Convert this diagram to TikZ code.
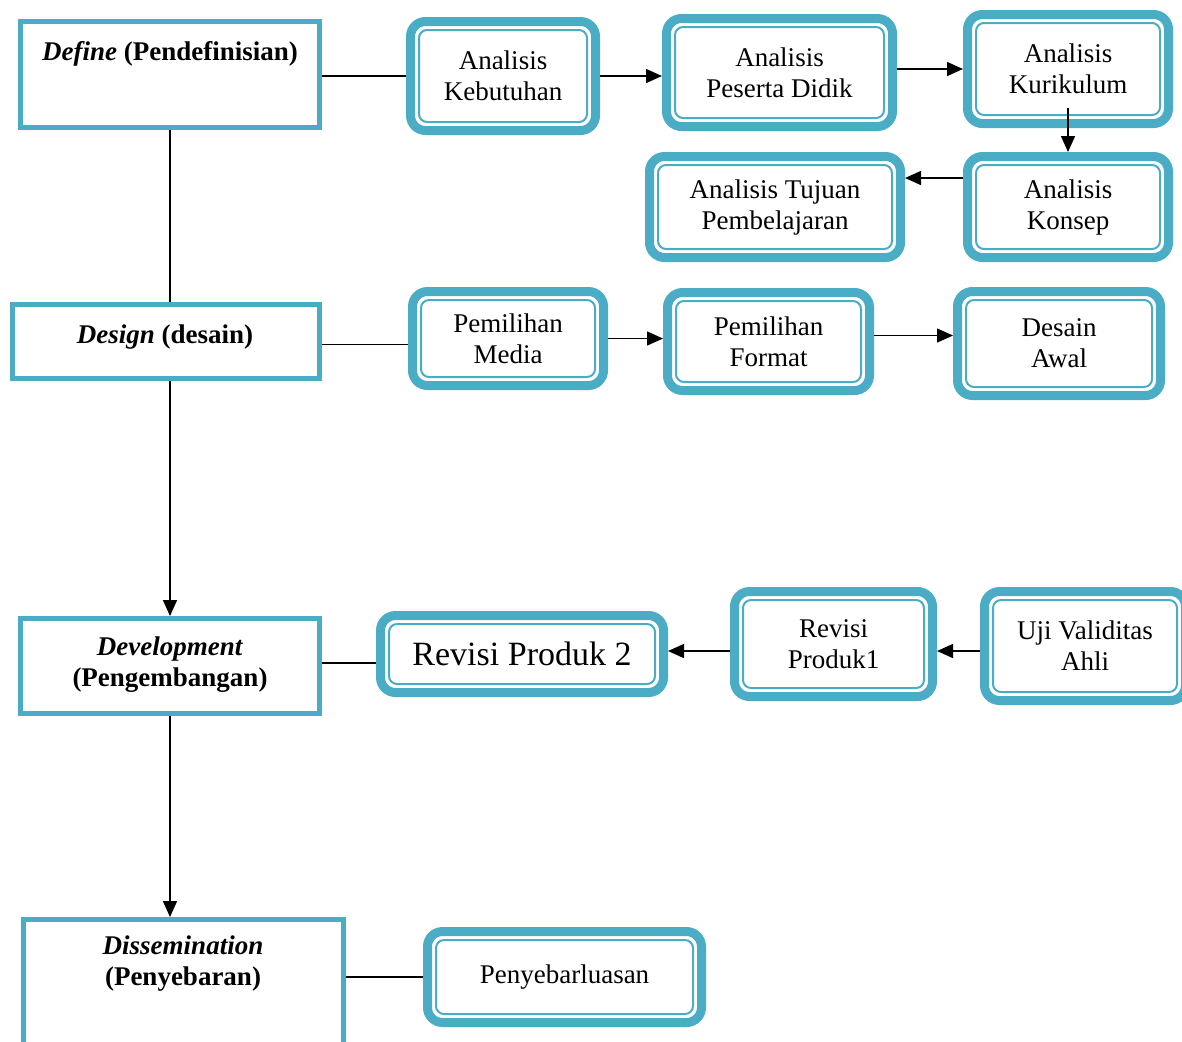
\documentclass[tikz,border=0pt]{standalone}
\usepackage{fontspec}
\setmainfont{Liberation Serif}
\usetikzlibrary{arrows.meta}
\definecolor{tealbox}{RGB}{75,172,198}
\begin{document}
\begin{tikzpicture}[x=0.5pt,y=-0.5pt,
  stage/.style={draw=tealbox, line width=2.5pt, fill=white, inner sep=0pt},
  stagetext/.style={font=\fontsize{13.5}{15.5}\selectfont\bfseries, align=center},
  task/.style={draw=tealbox, line width=4.5pt, rounded corners=7.5pt, fill=white, align=center, font=\fontsize{13.5}{15.5}\selectfont},
  taskin/.style={draw=tealbox, line width=1pt, rounded corners=4pt},
  link/.style={line width=0.75pt},
  flow/.style={line width=0.75pt, -{Triangle[length=8pt,width=7pt]}}]
\useasboundingbox (0,0) rectangle (1182,1041);
\node[stage, minimum width=149.5pt, minimum height=53pt] (def) at (170,74.5){};
\node[stagetext] (deft) at (170,54){\textit{Define} (Pendefinisian)};
\node[stage, minimum width=153.5pt, minimum height=37pt] (dsg) at (166,341.5){};
\node[stagetext] (dsgt) at (165,337){\textit{Design} (desain)};
\node[stage, minimum width=149.5pt, minimum height=47.5pt] (dev) at (170,666){};
\node[stagetext] (devt) at (170,665){\textit{Development}\\(Pengembangan)};
\node[stage, minimum width=160pt, minimum height=70.25pt] (dis) at (183.5,989.75){};
\node[stagetext] (dist) at (183,964){\textit{Dissemination}\\(Penyebaran)};
\node[task, minimum width=92.5pt, minimum height=54.5pt] (keb) at (503,76){Analisis\\Kebutuhan};
\node[task, minimum width=113pt, minimum height=54pt] (psd) at (779.5,72.5){Analisis\\Peserta Didik};
\node[task, minimum width=100.5pt, minimum height=54.5pt] (kur) at (1068,69){Analisis\\Kurikulum};
\node[task, minimum width=100.5pt, minimum height=50.5pt] (kon) at (1068,207){Analisis\\Konsep};
\node[task, minimum width=125.5pt, minimum height=50.5pt] (tuj) at (775,207){Analisis Tujuan\\Pembelajaran};
\node[task, minimum width=95.5pt, minimum height=47pt] (med) at (508,338.5){Pemilihan\\Media};
\node[task, minimum width=101pt, minimum height=49pt] (fmt) at (768.5,341.5){Pemilihan\\Format};
\node[task, minimum width=101.5pt, minimum height=52pt] (dsn) at (1059,343.5){Desain\\Awal};
\node[task, minimum width=141.5pt, minimum height=38.5pt, font=\fontsize{17}{19}\selectfont] (rv2) at (522,654){Revisi Produk 2};
\node[task, minimum width=99pt, minimum height=52.5pt] (rv1) at (833.5,644){Revisi\\Produk1};
\node[task, minimum width=100.5pt, minimum height=54.5pt] (uji) at (1085,646){Uji Validitas\\Ahli};
\node[task, minimum width=137pt, minimum height=45.5pt] (pen) at (564.5,977){Penyebarluasan};
\foreach \n in {keb,psd,kur,kon,tuj,med,fmt,dsn,rv2,rv1,uji,pen}
  \draw[taskin] ([shift={(13,13)}]\n.north west) rectangle ([shift={(-13,-13)}]\n.south east);
\draw[link](def.south) -- (def.south |- dsg.north);
\draw[flow](dev.north |- dsg.south) -- (dev.north);
\draw[flow](dev.south) -- (dev.south |- dis.north);
\draw[link](def.east |- keb.west) -- (keb.west);
\draw[link]([yshift=-1.5pt]dsg.east) -- ([yshift=-1.5pt]dsg.east -| med.west);
\draw[link]([yshift=1.5pt]dev.east) -- ([yshift=1.5pt]dev.east -| rv2.west);
\draw[link](pen.west -| dis.east) -- (pen.west);
\draw[flow](keb.east) -- (keb.east -| psd.west);
\draw[flow](kur.west -| psd.east) -- (kur.west);
\draw[flow]([yshift=10pt]kur.south) -- (kon.north);
\draw[flow]([yshift=14.5pt]kon.west) -- ([yshift=14.5pt]tuj.east);
\draw[flow](med.east) -- (med.east -| fmt.west);
\draw[flow]([yshift=3pt]fmt.east) -- ([yshift=3pt]fmt.east -| dsn.west);
\draw[flow]([yshift=-2.5pt]uji.west) -- ([yshift=-2.5pt]uji.west -| rv1.east);
\draw[flow]([yshift=-3.5pt]rv1.west) -- ([yshift=-3.5pt]rv1.west -| rv2.east);
\end{tikzpicture}
\end{document}
